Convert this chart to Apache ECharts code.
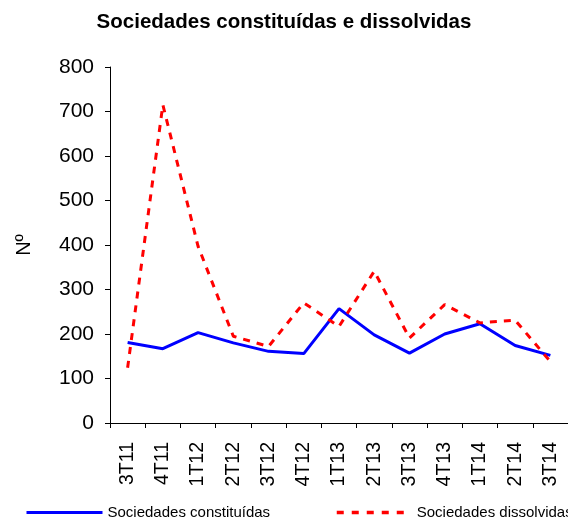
<!DOCTYPE html>
<html>
<head>
<meta charset="utf-8">
<title>Sociedades constituídas e dissolvidas</title>
<script src="https://cdn.jsdelivr.net/npm/echarts@6/dist/echarts.min.js"></script>
<style>
html, body { margin: 0; padding: 0; background: #fff; }
#chart { width: 568px; height: 517px; }
</style>
</head>
<body>
<div id="chart"></div>
<script>
// trimestres
var trimestres = ['3T11', '4T11', '1T12', '2T12', '3T12', '4T12', '1T13', '2T13', '3T13', '4T13', '1T14', '2T14', '3T14'];
var constituidas = [181, 167, 203, 180, 161, 156, 257, 198, 157, 200, 223, 174, 152];
var dissolvidas = [124, 715, 397, 195, 172, 270, 217, 341, 191, 266, 225, 231, 138];
var yTicks = [0, 100, 200, 300, 400, 500, 600, 700, 800];

var fonte = 'Liberation Sans, Arial, sans-serif';
var myChart = echarts.init(document.getElementById('chart'));

var option = {
    backgroundColor: '#fff',
    animation: false,
    title: {
        text: 'Sociedades constituídas e dissolvidas',
        left: 'center',
        top: 7,
        textStyle: { fontFamily: fonte, fontSize: 20.5, fontWeight: 'bold', color: '#000' }
    },
    legend: [{
        data: ['Sociedades constituídas'],
        left: 25,
        top: 505,
        padding: 0,
        itemWidth: 76,
        itemHeight: 14,
        itemStyle: { opacity: 0 },
        lineStyle: { width: 3 },
        textStyle: { fontFamily: fonte, fontSize: 15, color: '#000' }
    }, {
        data: ['Sociedades dissolvidas'],
        left: 335,
        top: 505,
        padding: 0,
        itemWidth: 67,
        itemHeight: 14,
        itemStyle: { opacity: 0 },
        lineStyle: { width: 3.5, type: [7, 8] },
        textStyle: { fontFamily: fonte, fontSize: 15, color: '#000', padding: [0, 0, 0, 8] }
    }],
    grid: { left: 110, top: 67, bottom: 94, width: 468 },
    xAxis: {
        type: 'category',
        data: trimestres,
        boundaryGap: true,
        axisLine: { lineStyle: { color: '#000', width: 1 } },
        axisTick: { show: true, length: 5, lineStyle: { color: '#000' } },
        axisLabel: { rotate: 90, margin: 19, fontFamily: fonte, fontSize: 19.5, color: '#000' }
    },
    yAxis: {
        type: 'value',
        min: yTicks[0],
        max: yTicks[yTicks.length - 1],
        interval: 100,
        name: 'Nº',
        nameLocation: 'middle',
        nameGap: 76,
        nameTextStyle: { fontFamily: fonte, fontSize: 20, color: '#000' },
        axisLine: { show: true, lineStyle: { color: '#000', width: 1 } },
        axisTick: { show: true, length: 5, lineStyle: { color: '#000' } },
        axisLabel: { margin: 16, fontFamily: fonte, fontSize: 21, color: '#000' },
        splitLine: { show: false }
    },
    series: [{
        name: 'Sociedades constituídas',
        type: 'line',
        data: constituidas,
        symbol: 'none',
        lineStyle: { color: '#0000FF', width: 3 },
        itemStyle: { color: '#0000FF' }
    }, {
        name: 'Sociedades dissolvidas',
        type: 'line',
        data: dissolvidas,
        symbol: 'none',
        lineStyle: { color: '#FF0000', width: 3, type: [7, 7] },
        itemStyle: { color: '#FF0000' }
    }]
};
myChart.setOption(option);
</script>
</body>
</html>
